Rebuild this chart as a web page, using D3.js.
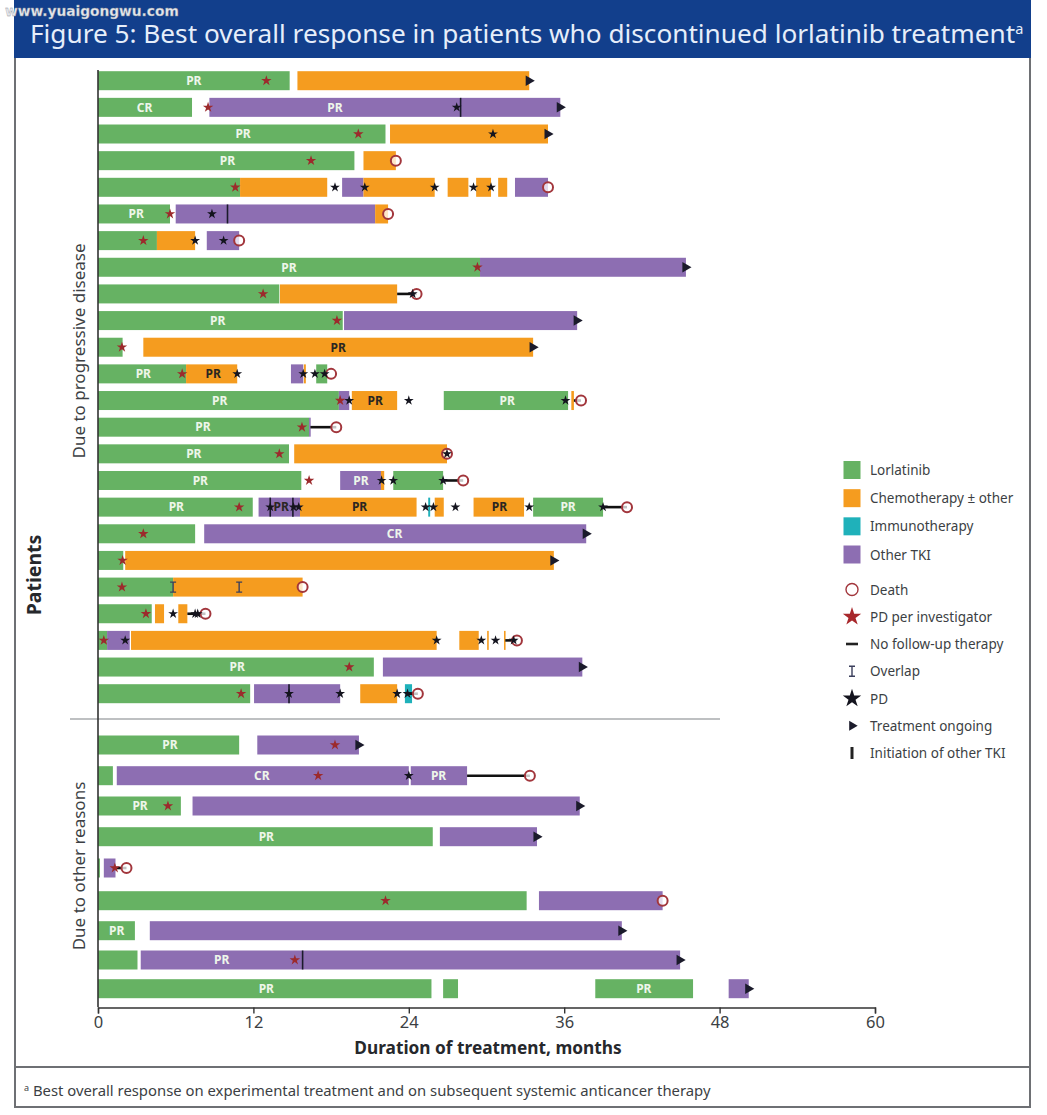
<!DOCTYPE html>
<html><head><meta charset="utf-8">
<script src="https://cdn.jsdelivr.net/npm/d3@7/dist/d3.min.js"></script>
<style>html,body{margin:0;padding:0;background:#fff}svg{display:block}text{font-family:"Noto Sans",sans-serif}</style>
</head><body><svg id="c" width="1047" height="1115"></svg>
<script>
// Patient rows: 1–24 progressive disease, 25–33 other reasons
const progressiveRows = d3.range(1, 25);
const otherRows = d3.range(25, 34);
const xTicks = [0, 12, 24, 36, 48, 60];

// [patient, start month, end month]
const lorlatinibBars = [[1,0,14.8],[2,0,7.26],[3,0,22.2],[4,0,19.8],[5,0,10.97],[6,0,5.56],[7,0,4.55],[8,0,29.5],[9,0,14],[10,0,18.9],[11,0,1.9],[12,0,6.8],[12,16.85,17.7],[13,0,18.6],[13,26.7,36.3],[14,0,16.3],[15,0,14.75],[16,0,15.7],[16,22.8,26.65],[17,0,11.95],[17,33.6,39],[18,0,7.5],[19,0,1.95],[20,0,5.8],[21,0,4.15],[22,0,0.7],[23,0,21.3],[24,0,11.75],[25,0,10.9],[26,0,1.15],[27,0,6.4],[28,0,25.85],[29,0,0.15],[30,0,33.1],[31,0,2.85],[32,0,3.05],[33,0,25.75],[33,26.65,27.8],[33,38.4,45.95]];
const chemoBars = [[1,15.4,33.3],[3,22.55,34.75],[4,20.5,23],[5,10.97,17.7],[5,20.5,26],[5,27,28.6],[5,29.2,30.35],[5,30.9,31.6],[6,21.4,22.4],[7,4.55,7.5],[9,14.05,23.1],[11,3.5,33.6],[12,6.8,10.75],[12,15.9,16.05],[13,19.6,23.1],[13,36.55,36.75],[15,15.15,26.95],[16,21.85,22.1],[17,15.6,24.6],[17,26,26.7],[17,29,32.9],[19,2.1,35.2],[20,5.8,15.8],[21,4.4,5.1],[21,6.2,6.9],[22,2.55,26.15],[22,27.9,29.4],[22,30.05,30.15],[22,31.35,31.45],[24,20.25,23.1]];
const immunoBars = [[17,25.5,25.65],[24,23.7,24.25]];
const tkiBars = [[2,8.6,35.7],[5,18.85,20.5],[5,32.2,34.75],[6,6,21.4],[7,8.4,10.9],[8,29.5,45.4],[10,19,37],[12,14.9,15.85],[13,18.6,19.4],[14,16.3,16.4],[16,18.7,21.85],[17,12.4,15.6],[18,8.2,37.7],[22,0.7,2.45],[23,22,37.4],[24,12.05,18.7],[25,12.3,20.15],[26,1.45,24],[26,24.15,28.5],[27,7.3,37.2],[28,26.4,33.9],[29,0.45,1.35],[30,34.05,43.6],[31,4,40.45],[32,3.3,44.95],[33,48.7,50.25]];

// [patient, month]
const pdInvestigator = [[1,13],[2,8.5],[3,20.1],[4,16.45],[5,10.6],[6,5.56],[7,3.5],[8,29.3],[9,12.75],[10,18.45],[11,1.85],[12,6.5],[13,18.7],[14,15.75],[15,14],[16,16.3],[17,10.9],[18,3.5],[19,1.9],[20,1.85],[21,3.7],[22,0.45],[23,19.4],[24,11.05],[25,18.3],[26,17],[27,5.4],[29,1.3],[30,22.2],[32,15.2]];
const pdEvents = [[2,27.7],[3,30.5],[5,18.3],[5,20.6],[5,26],[5,29],[5,30.35],[6,8.8],[7,7.5],[7,9.7],[9,24.3],[12,10.75],[12,15.85],[12,16.75],[12,17.5],[13,19.4],[13,24],[13,36.1],[15,26.95],[16,21.9],[16,22.8],[16,26.65],[17,13.3],[17,15.1],[17,15.5],[17,25.3],[17,25.9],[17,27.6],[17,33.3],[17,39],[21,5.8],[21,7.5],[21,7.7],[22,2.1],[22,26.15],[22,29.6],[22,30.7],[22,32.1],[24,14.75],[24,18.7],[24,23.1],[24,23.9],[26,24]];
const deaths = [[4,23],[5,34.75],[6,22.4],[7,10.9],[9,24.6],[12,18],[13,37.3],[14,18.4],[15,26.95],[16,28.2],[17,40.85],[20,15.8],[21,8.3],[22,32.35],[24,24.7],[26,33.35],[29,2.2],[30,43.6]];
const ongoing = [[1,33.3],[2,35.7],[3,34.75],[8,45.4],[10,37],[11,33.6],[18,37.7],[19,35.2],[23,37.4],[25,20.15],[27,37.2],[28,33.9],[31,40.45],[32,44.95],[33,50.25]];
const tkiInitiation = [[2,28],[6,10],[17,13.3],[17,15.05],[24,14.75],[32,15.8]];
const overlaps = [[20,5.8],[20,10.9]];
// [patient, start month, end month]
const noFollowUp = [[9,23.1,24.6],[13,36.75,37.3],[14,16.4,18.4],[16,26.65,28.2],[17,39,40.85],[21,6.9,8.3],[22,31.45,32.35],[24,24,24.7],[26,28.5,33.35],[29,1.35,2.2]];

// [patient, month centre, text]
const lightLabels = [[1,7.4,"PR"],[2,3.6,"CR"],[2,18.3,"PR"],[3,11.2,"PR"],[4,10,"PR"],[6,2.95,"PR"],[8,14.75,"PR"],[10,9.25,"PR"],[12,3.5,"PR"],[13,9.4,"PR"],[13,31.6,"PR"],[14,8.1,"PR"],[15,7.4,"PR"],[16,7.9,"PR"],[16,20.3,"PR"],[17,6.05,"PR"],[17,36.3,"PR"],[18,22.9,"CR"],[23,10.75,"PR"],[25,5.55,"PR"],[26,12.65,"CR"],[26,26.3,"PR"],[27,3.25,"PR"],[28,13,"PR"],[31,1.45,"PR"],[32,9.55,"PR"],[33,13,"PR"],[33,42.15,"PR"]];
const darkLabels = [[11,18.55,"PR"],[12,8.9,"PR"],[13,21.4,"PR"],[17,14.15,"PR"],[17,20.2,"PR"],[17,31,"PR"]];

const barLegend = ["Lorlatinib", "Chemotherapy ± other", "Immunotherapy", "Other TKI"];
const markLegend = ["Death", "PD per investigator", "No follow-up therapy", "Overlap", "PD", "Treatment ongoing", "Initiation of other TKI"];

const GREEN="#66b263",ORANGE="#f59c1f",TEAL="#1fb1ba",PURPLE="#8d6eb2",RED="#9c2a2c",INK="#1b1b2b",TXT="#3c3f44",FRAME="#6e7074",BLUE="#123f8c";
const svg = d3.select("#c");

const x = d3.scaleLinear().domain([0, 60]).range([98, 875]);
const yTop = d3.scalePoint().domain(progressiveRows).range([80.7, 693.7]);
const yBottom = d3.scaleOrdinal().domain(otherRows).range([745,775.7,806,836.7,868,900.7,930.7,960,988.7]);
const y = r => r <= 24 ? yTop(r) : yBottom(r);
const BAR = 19;

// frame & header
svg.append("rect").attr("x",15).attr("y",1).attr("width",1015).attr("height",1106).attr("fill","#fff").attr("stroke",FRAME).attr("stroke-width",2);
svg.append("line").attr("x1",15).attr("x2",1030).attr("y1",1067).attr("y2",1067).attr("stroke",FRAME).attr("stroke-width",2);
svg.append("rect").attr("x",14).attr("y",0).attr("width",1017).attr("height",58).attr("fill",BLUE);
const title = svg.append("text").attr("x",30).attr("y",43).attr("fill","#e6eefa").attr("font-size",26.2);
title.append("tspan").text("Figure 5: Best overall response in patients who discontinued lorlatinib treatment");
title.append("tspan").text("a").attr("font-size",14.5).attr("dy",-9);
svg.append("text").attr("x",5).attr("y",15.5).attr("fill","#e4e7ec").attr("font-size",13.75).attr("font-weight","bold")
  .style("font-family","'DejaVu Sans'").attr("stroke","#8b8f96").attr("stroke-width",0.3).text("www.yuaigongwu.com");

// footnote
const foot = svg.append("text").attr("x",24).attr("y",1096).attr("fill",TXT).attr("font-size",14.85);
foot.append("tspan").text("a").attr("font-size",9).attr("dy",-5);
foot.append("tspan").text(" Best overall response on experimental treatment and on subsequent systemic anticancer therapy").attr("dy",5);

// separator
svg.append("line").attr("x1",70).attr("x2",720).attr("y1",719).attr("y2",719).attr("stroke","#a9abae").attr("stroke-width",1.5);

// bars
function drawBars(rows, color){
  svg.append("g").selectAll("rect").data(rows).join("rect")
    .attr("x", d => x(d[1])).attr("width", d => Math.max(x(d[2]) - x(d[1]), 1.6))
    .attr("y", d => y(d[0]) - BAR/2).attr("height", BAR).attr("fill", color);
}
drawBars(lorlatinibBars, GREEN);
drawBars(tkiBars, PURPLE);
drawBars(chemoBars, ORANGE);
drawBars(immunoBars, TEAL);

// axes
const axisG = svg.append("g").attr("transform","translate(0,1007.5)")
  .call(d3.axisBottom(x).tickValues(xTicks).tickSize(6).tickPadding(3));
axisG.selectAll(".domain,line").attr("stroke","#333").attr("stroke-width",1.4);
axisG.selectAll("text").attr("font-size",16.5).attr("fill",TXT).style("font-family","'Noto Sans'");
svg.append("line").attr("x1",98).attr("x2",98).attr("y1",70).attr("y2",1007).attr("stroke","#333").attr("stroke-width",1.6);
svg.append("text").attr("x",488).attr("y",1054).attr("text-anchor","middle").attr("font-size",17.3).attr("font-weight","bold").attr("fill","#26282c").text("Duration of treatment, months");
const vlabel=(t,cx,cy,size,weight)=>svg.append("text").attr("transform",`translate(${cx},${cy}) rotate(-90)`).attr("text-anchor","middle").attr("font-size",size).attr("font-weight",weight).attr("fill",weight==="bold"?"#26282c":TXT).text(t);
vlabel("Patients",41,575,19.5,"bold");
vlabel("Due to progressive disease",85,351,17,"normal");
vlabel("Due to other reasons",85,866,17,"normal");

// no follow-up lines
svg.append("g").selectAll("line").data(noFollowUp).join("line")
  .attr("x1",d=>x(d[1])).attr("x2",d=>x(d[2])).attr("y1",d=>y(d[0])).attr("y2",d=>y(d[0]))
  .attr("stroke","#111").attr("stroke-width",2.6);

// initiation ticks
svg.append("g").selectAll("line").data(tkiInitiation).join("line")
  .attr("x1",d=>x(d[1])).attr("x2",d=>x(d[1])).attr("y1",d=>y(d[0])-BAR/2).attr("y2",d=>y(d[0])+BAR/2)
  .attr("stroke",INK).attr("stroke-width",1.6);

const star = d3.symbol().type(d3.symbolStar);
const tri = d3.symbol().type(d3.symbolTriangle);
function ongoingMark(sel, size){ sel.attr("d", tri.size(size)()).attr("fill",INK); }
function drawIbeam(g, cx, cy, h){
  g.append("path").attr("d",`M${cx-3},${cy-h/2}H${cx+3}M${cx},${cy-h/2}V${cy+h/2}M${cx-3},${cy+h/2}H${cx+3}`).attr("fill","none").attr("stroke","#3b3f5c").attr("stroke-width",1.4);
}

// death markers under stars
function deathMark(sel){ sel.attr("r",5).attr("fill","#fff").attr("fill-opacity",0.75).attr("stroke","#a2363c").attr("stroke-width",2); }
svg.append("g").selectAll("circle").data(deaths).join("circle").attr("cx",d=>x(d[1])).attr("cy",d=>y(d[0])).call(deathMark);

// overlap
const ovG = svg.append("g");
overlaps.forEach(d => drawIbeam(ovG, x(d[1]), y(d[0]), 10));

// ongoing
svg.append("g").selectAll("path").data(ongoing).join("path")
  .attr("transform",d=>`translate(${x(d[1])-0.5},${y(d[0])}) rotate(90)`).call(ongoingMark,48);

// stars
svg.append("g").selectAll("path").data(pdInvestigator).join("path")
  .attr("transform",d=>`translate(${x(d[1])},${y(d[0])})`).attr("d",star.size(34)()).attr("fill",RED);
svg.append("g").selectAll("path").data(pdEvents).join("path")
  .attr("transform",d=>`translate(${x(d[1])},${y(d[0])})`).attr("d",star.size(30)()).attr("fill","#14141e");

// labels
function drawLabels(rows, fill){
  svg.append("g").selectAll("text").data(rows).join("text")
    .attr("x",d=>x(d[1])).attr("y",d=>y(d[0])+4.3).attr("text-anchor","middle")
    .attr("font-size",12).attr("font-weight","bold").attr("fill",fill).text(d=>d[2]);
}
drawLabels(lightLabels,"#eef6ea");
drawLabels(darkLabels,"#2a2622");

// legend
const barColors = [GREEN,ORANGE,TEAL,PURPLE];
const barLegendY = d3.scalePoint().domain(barLegend).range([470,554.5]);
const lg = svg.append("g");
barLegend.forEach((t,i)=>{
  lg.append("rect").attr("x",843.5).attr("y",barLegendY(t)-9).attr("width",17).attr("height",18).attr("fill",barColors[i]);
  lg.append("text").attr("x",870).attr("y",barLegendY(t)+5).attr("font-size",13.5).attr("fill",TXT).text(t);
});
const markLegendY = d3.scalePoint().domain(markLegend).range([589.5,753]);
markLegend.forEach(t=>{
  const yy = markLegendY(t), cx = 852;
  lg.append("text").attr("x",870).attr("y",yy+5).attr("font-size",13.5).attr("fill",TXT).text(t);
  if(t==="Death") lg.append("circle").attr("cx",cx).attr("cy",yy).attr("r",6).attr("fill","#fff").attr("stroke","#a2363c").attr("stroke-width",1.4);
  if(t==="PD per investigator") lg.append("path").attr("transform",`translate(${cx},${yy})`).attr("d",star.size(105)()).attr("fill","#a8282c");
  if(t==="No follow-up therapy") lg.append("line").attr("x1",cx-6).attr("x2",cx+6).attr("y1",yy).attr("y2",yy).attr("stroke","#222").attr("stroke-width",2.6);
  if(t==="Overlap") drawIbeam(lg,cx,yy,10);
  if(t==="PD") lg.append("path").attr("transform",`translate(${cx},${yy})`).attr("d",star.size(105)()).attr("fill","#14141e");
  if(t==="Treatment ongoing") lg.append("path").attr("transform",`translate(${cx},${yy}) rotate(90)`).call(ongoingMark,42);
  if(t==="Initiation of other TKI") lg.append("line").attr("x1",cx).attr("x2",cx).attr("y1",yy-6).attr("y2",yy+6).attr("stroke","#222").attr("stroke-width",3);
});
</script></body></html>
